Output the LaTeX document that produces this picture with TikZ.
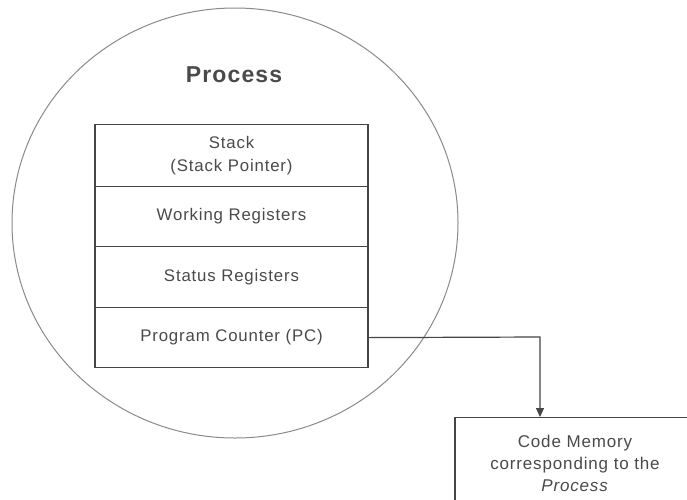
\documentclass[tikz,border=0pt]{standalone}
\usepackage{fontspec}
\setmainfont{Liberation Sans}
\newfontfamily\widefont[LetterSpace=5]{Liberation Sans}
\usetikzlibrary{shapes.geometric,arrows.meta}
\definecolor{txt}{HTML}{4A4A4A}
\definecolor{ln}{HTML}{454545}
\definecolor{circ}{HTML}{8A8A8A}
\tikzset{
  row/.style={draw=ln, line width=1.2pt, rectangle, minimum width=273pt, anchor=north, inner sep=0pt, text=txt, align=center, font=\widefont\fontsize{16.8}{23}\selectfont},
  codebox/.style={draw=ln, line width=1.2pt, rectangle, minimum width=240pt, minimum height=92pt, anchor=north, text=txt, align=center, font=\widefont\fontsize{17}{22}\selectfont},
  conn/.style={draw=ln, line width=1.2pt, -{Triangle[length=9pt,width=8pt]}}
}
\begin{document}
\begin{tikzpicture}[x=1pt,y=-1pt]
\useasboundingbox (0,0) rectangle (687,499);
\fill[white] (0,0) rectangle (687,499);
\node[draw=circ, line width=1pt, ellipse, minimum width=446pt, minimum height=430pt] (proc) at (235,223) {};
\node[text=txt, font=\widefont\bfseries\fontsize{23}{26}\selectfont] (title) at (234,75) {Process};
\node[row, minimum height=62pt] (stack) at (231.5,124) {Stack\\(Stack Pointer)};
\node[row, minimum height=60pt] (work) at (231.5,186) {Working Registers};
\node[row, minimum height=61pt] (status) at (231.5,246) {Status Registers};
\node[row, minimum height=60pt] (pc) at (231.5,307) {Program Counter (PC)};
\node[codebox] (code) at (575,417) {Code Memory\\corresponding to the\\\textit{Process}};
\coordinate (bend) at (540,337);
\draw[conn] (pc.east) -- (bend) -- (code.north -| bend);
\end{tikzpicture}
\end{document}
